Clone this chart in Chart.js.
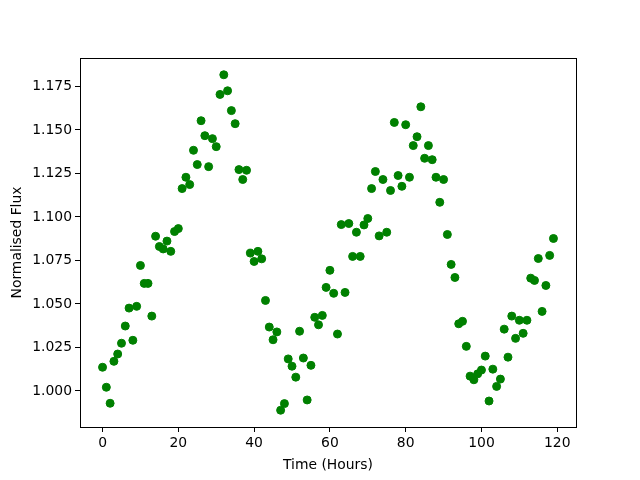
<!DOCTYPE html>
<html>
<head>
<meta charset="utf-8">
<script src="https://cdn.jsdelivr.net/npm/chart.js@4.4.0/dist/chart.umd.min.js"></script>
<style>
  html, body { margin: 0; padding: 0; background: #fff; }
  #wrap { width: 640px; height: 480px; }
</style>
</head>
<body>
<div id="wrap"><canvas id="grafico" width="640" height="480"></canvas></div>
<script>
// Datos
const horas = [
  0, 1, 2, 3, 4, 5, 6, 7, 8, 9,
  10, 11, 12, 13, 14, 15, 16, 17, 18, 19,
  20, 21, 22, 23, 24, 25, 26, 27, 28, 29,
  30, 31, 32, 33, 34, 35, 36, 37, 38, 39,
  40, 41, 42, 43, 44, 45, 46, 47, 48, 49,
  50, 51, 52, 53, 54, 55, 56, 57, 58, 59,
  60, 61, 62, 63, 64, 65, 66, 67, 68, 69,
  70, 71, 72, 73, 74, 75, 76, 77, 78, 79,
  80, 81, 82, 83, 84, 85, 86, 87, 88, 89,
  90, 91, 92, 93, 94, 95, 96, 97, 98, 99,
  100, 101, 102, 103, 104, 105, 106, 107, 108, 109,
  110, 111, 112, 113, 114, 115, 116, 117, 118, 119
];

const flujo = [
  1.0136, 1.0021, 0.9929, 1.0170, 1.0212, 1.0274, 1.0373, 1.0476, 1.0291, 1.0486,
  1.0721, 1.0618, 1.0618, 1.0430, 1.0889, 1.0830, 1.0816, 1.0861, 1.0802, 1.0916,
  1.0933, 1.1163, 1.1228, 1.1186, 1.1383, 1.1301, 1.1553, 1.1467, 1.1289, 1.1450,
  1.1404, 1.1704, 1.1817, 1.1725, 1.1611, 1.1536, 1.1272, 1.1215, 1.1268, 1.0792,
  1.0744, 1.0802, 1.0759, 1.0520, 1.0367, 1.0294, 1.0339, 0.9889, 0.9927, 1.0184,
  1.0142, 1.0079, 1.0343, 1.0189, 0.9948, 1.0147, 1.0423, 1.0380, 1.0434, 1.0595,
  1.0693, 1.0561, 1.0327, 1.0956, 1.0566, 1.0962, 1.0773, 1.0912, 1.0773, 1.0954,
  1.0991, 1.1163, 1.1261, 1.0891, 1.1215, 1.0912, 1.1152, 1.1543, 1.1238, 1.1176,
  1.1530, 1.1228, 1.1410, 1.1461, 1.1633, 1.1337, 1.1410, 1.1329, 1.1228, 1.1084,
  1.1215, 1.0899, 1.0727, 1.0652, 1.0386, 1.0400, 1.0256, 1.0085, 1.0064, 1.0098,
  1.0120, 1.0200, 0.9942, 1.0125, 1.0026, 1.0068, 1.0355, 1.0194, 1.0430, 1.0302,
  1.0406, 1.0331, 1.0406, 1.0648, 1.0635, 1.0761, 1.0457, 1.0606, 1.0779, 1.0876
];

const ticksX = [0, 20, 40, 60, 80, 100, 120];
const ticksY = [1.000, 1.025, 1.050, 1.075, 1.100, 1.125, 1.150, 1.175];

const puntos = horas.map((h, i) => ({ x: h, y: flujo[i] }));

// Marco completo alrededor del area del grafico
const marco = {
  id: 'marco',
  afterDraw(chart) {
    const a = chart.chartArea;
    const c = chart.ctx;
    c.save();
    c.strokeStyle = '#000';
    c.lineWidth = 1;
    c.strokeRect(Math.round(a.left) + 0.5, Math.round(a.top) + 0.5,
                 Math.round(a.right - a.left), Math.round(a.bottom - a.top));
    c.restore();
  }
};

const fuente = { family: 'DejaVu Sans', size: 13.9 };

const ctx = document.getElementById('grafico').getContext('2d');
new Chart(ctx, {
  type: 'scatter',
  data: {
    datasets: [{
      data: puntos,
      backgroundColor: '#008000',
      borderColor: '#008000',
      borderWidth: 1,
      pointRadius: 4,
      pointHoverRadius: 4
    }]
  },
  options: {
    responsive: false,
    animation: false,
    layout: { padding: { left: 0, right: 64, top: 58, bottom: 0 } },
    plugins: {
      legend: { display: false },
      tooltip: { enabled: false }
    },
    scales: {
      x: {
        type: 'linear',
        min: -5.95,
        max: 124.95,
        afterBuildTicks: axis => { axis.ticks = ticksX.map(v => ({ value: v })); },
        afterFit: axis => { axis.height = 53; },
        grid: { drawOnChartArea: false, drawTicks: true, tickLength: 5, tickColor: '#000' },
        border: { display: false },
        ticks: { color: '#000', font: fuente, padding: 3, maxRotation: 0 },
        title: { display: true, text: 'Time (Hours)', color: '#000', font: fuente, padding: { top: 2, bottom: 6 } }
      },
      y: {
        type: 'linear',
        min: 0.97926,
        max: 1.19134,
        afterBuildTicks: axis => { axis.ticks = ticksY.map(v => ({ value: v })); },
        afterFit: axis => { axis.width = 80; },
        grid: { drawOnChartArea: false, drawTicks: true, tickLength: 5, tickColor: '#000' },
        border: { display: false },
        ticks: { color: '#000', font: fuente, padding: 3, callback: v => v.toFixed(3) },
        title: { display: true, text: 'Normalised Flux', color: '#000', font: fuente, padding: { top: 9, bottom: 4 } }
      }
    }
  },
  plugins: [marco]
});
</script>
</body>
</html>
